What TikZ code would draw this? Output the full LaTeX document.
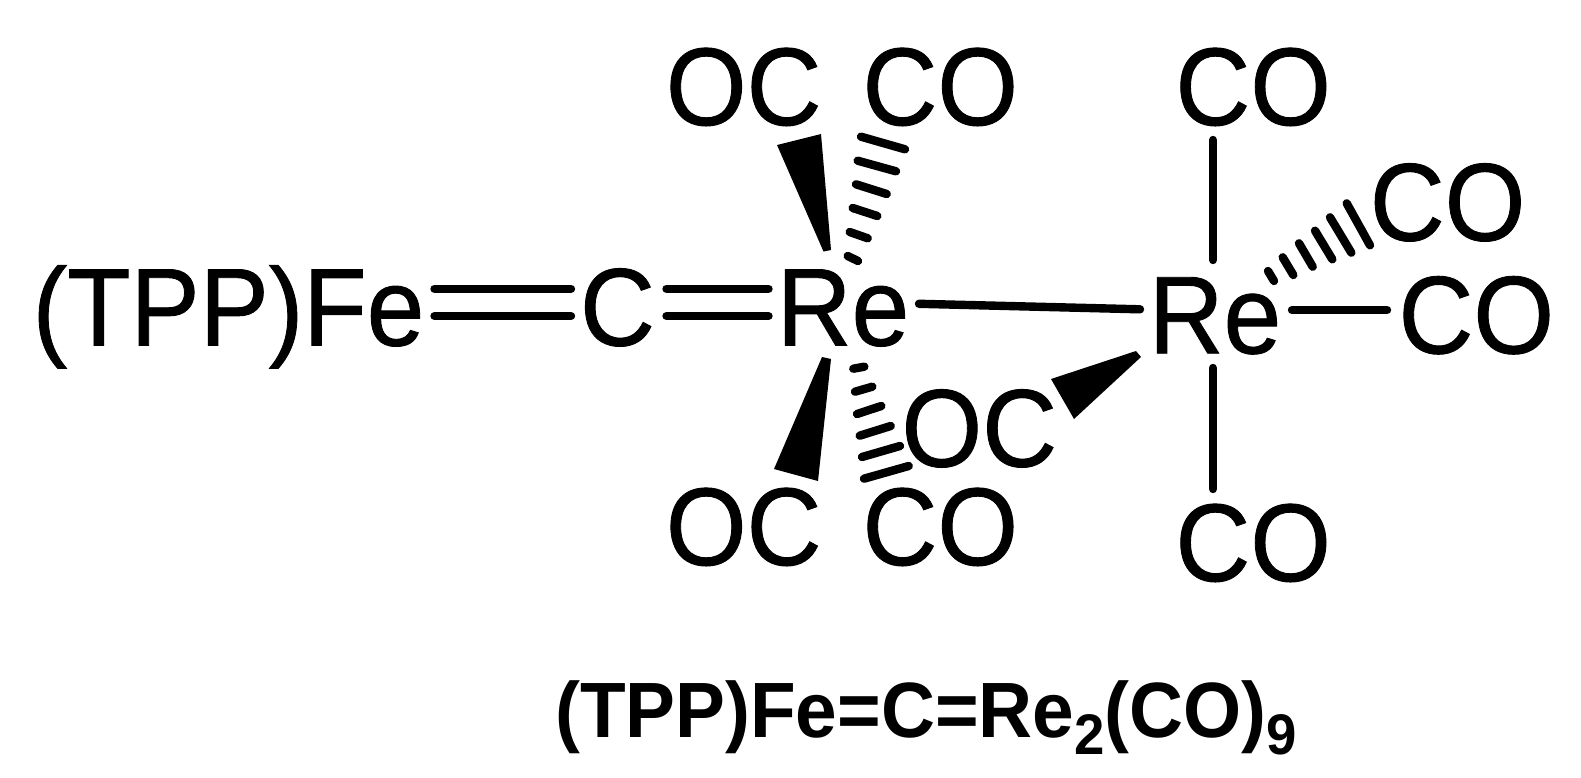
\documentclass[tikz,border=0pt]{standalone}
\usepackage{fontspec}
\setmainfont{Liberation Sans}
\newfontfamily\labfont[FakeBold=0.8]{Liberation Sans}
\begin{document}
\begin{tikzpicture}[x=1pt,y=-1pt,
  lab/.style={inner sep=0pt,outer sep=0pt,font=\labfont\fontsize{100}{100}\selectfont,anchor=base,xscale=1.037,yscale=1.105},
  ttl/.style={inner sep=0pt,outer sep=0pt,font=\fontsize{74}{74}\selectfont\bfseries,anchor=base,xscale=1.01,yscale=1.06},
  bond/.style={line width=8.4pt,line cap=round},
  wedge/.style={fill=black,draw=none}]
\newcommand{\subsc}[1]{{\fontsize{54}{54}\selectfont\raisebox{-16.5pt}{#1}}}
\useasboundingbox[fill=white] (0,0) rectangle (1581,778);
\node[lab] (fe) at (228.5,345.5) {(TPP)Fe};
\node[lab] (c) at (617.5,345.5) {C};
\node[lab] (re1) at (843,345.5) {Re};
\node[lab] (re2) at (1215,353.3) {Re};
\node[lab] (oc1) at (743.7,125) {OC};
\node[lab] (co1) at (940.3,125) {CO};
\node[lab] (co2) at (1253.2,125) {CO};
\node[lab] (co3) at (1447.6,240.5) {CO};
\node[lab] (co4) at (1476.3,353.3) {CO};
\node[lab] (oc2) at (979.3,466.5) {OC};
\node[lab] (oc3) at (743.7,565) {OC};
\node[lab] (co5) at (940.3,565) {CO};
\node[lab] (co6) at (1253.2,581) {CO};
\node[ttl] (title) at (926,737) {(TPP)Fe=C=Re\subsc{2}(CO)\subsc{9}};
% double bonds
\draw[bond] (434.5,288.7) -- (571,288.7);
\draw[bond] (434.5,316) -- (571,316);
\draw[bond] (666.5,288.7) -- (768.5,288.7);
\draw[bond] (666.5,316) -- (768.5,316);
% single bonds
\draw[bond] (919,303.8) -- (1140,309.3);
\draw[bond] (1213,140) -- (1213,260);
\draw[bond] (1292,310) -- (1387,310);
\draw[bond] (1213,368) -- (1213,489);
% wedges
\fill[wedge] (777,145) -- (821,134) -- (831,250) -- (823.5,251.5) -- cycle;
\fill[wedge] (822,357) -- (831,359) -- (818,481) -- (774,469) -- cycle;
\fill[wedge] (1136,351) -- (1141,357) -- (1074,419) -- (1051,379) -- cycle;
% hashed bonds
\foreach \xa/\ya/\xb/\yb in {861/136.7/905/149.3, 857.7/160.7/896/171.3, 856/184.3/886.7/194, 852.7/208/877.3/216, 849.7/232/867.7/238.3, 847.7/256/858/261}
  \draw[bond] (\xa,\ya) -- (\xb,\yb);
\foreach \xa/\ya/\xb/\yb in {853.3/368.7/864.3/366.7, 855/391.7/872.3/386.7, 857/414/881.3/406, 859.7/435.7/890.7/426, 862/457/900/446, 864/478.7/908.7/466}
  \draw[bond] (\xa,\ya) -- (\xb,\yb);
\foreach \xa/\ya/\xb/\yb in {1268/271/1274/281, 1282.7/257.3/1293.3/275, 1299/243.3/1312.7/266.7, 1315/230.7/1332.3/259.3, 1330/217.3/1351.3/252.7, 1346.7/203.3/1370/245.3}
  \draw[bond] (\xa,\ya) -- (\xb,\yb);
\end{tikzpicture}
\end{document}
